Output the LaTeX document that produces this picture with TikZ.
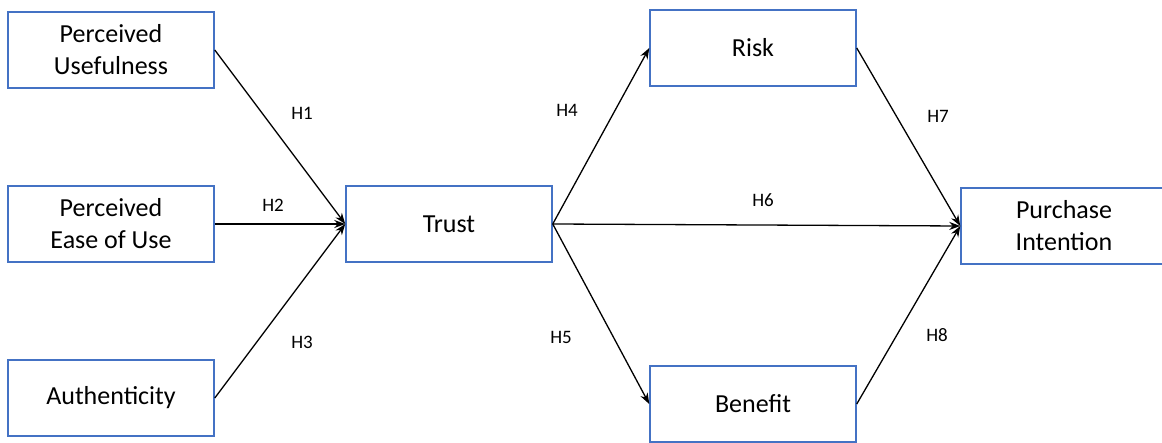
\documentclass[tikz,border=0pt]{standalone}
\usepackage{fontspec}
\setmainfont{Carlito}
\usetikzlibrary{arrows.meta}
\definecolor{boxblue}{HTML}{4472C4}

\begin{document}
\begin{tikzpicture}[x=1pt, y=-1pt, >={Stealth[length=11pt, width=8pt]},
    var/.style={draw=boxblue, line width=1.5pt, minimum width=206pt, minimum height=76pt,
        inner sep=0pt, align=center, font=\fontsize{26}{32}\selectfont},
    hyp/.style={font=\fontsize{19}{22}\selectfont},
    hline/.style={->, line width=1.3pt}]
    \useasboundingbox (0,0) rectangle (1162,443);

    \node[var] (pu)    at (111, 50)  {Perceived\\Usefulness};
    \node[var] (peou)  at (111, 224) {Perceived\\Ease of Use};
    \node[var] (auth)  at (111, 398) {Authenticity};
    \node[var] (trust) at (449, 224) {Trust};
    \node[var] (risk)  at (753, 48)  {Risk};
    \node[var] (ben)   at (753, 404) {Benefit};
    \node[var] (pi)    at (1064, 226) {Purchase\\Intention};

    \draw[hline] (pu.east) -- (trust.west);
    \draw[hline] (peou.east) -- (trust.west);
    \draw[hline] (auth.east) -- (trust.west);
    \draw[hline] (trust.east) -- (risk.west);
    \draw[hline] (trust.east) -- (ben.west);
    \draw[hline] (trust.east) -- (pi.west);
    \draw[hline] (risk.east) -- (pi.west);
    \draw[hline] (ben.east) -- (pi.west);

    \node[hyp] (h1) at (302, 113) {H1};
    \node[hyp] (h2) at (273, 205) {H2};
    \node[hyp] (h3) at (302, 342) {H3};
    \node[hyp] (h4) at (567, 110) {H4};
    \node[hyp] (h5) at (561, 337) {H5};
    \node[hyp] (h6) at (763, 200) {H6};
    \node[hyp] (h7) at (938, 116) {H7};
    \node[hyp] (h8) at (937, 335) {H8};
\end{tikzpicture}
\end{document}
